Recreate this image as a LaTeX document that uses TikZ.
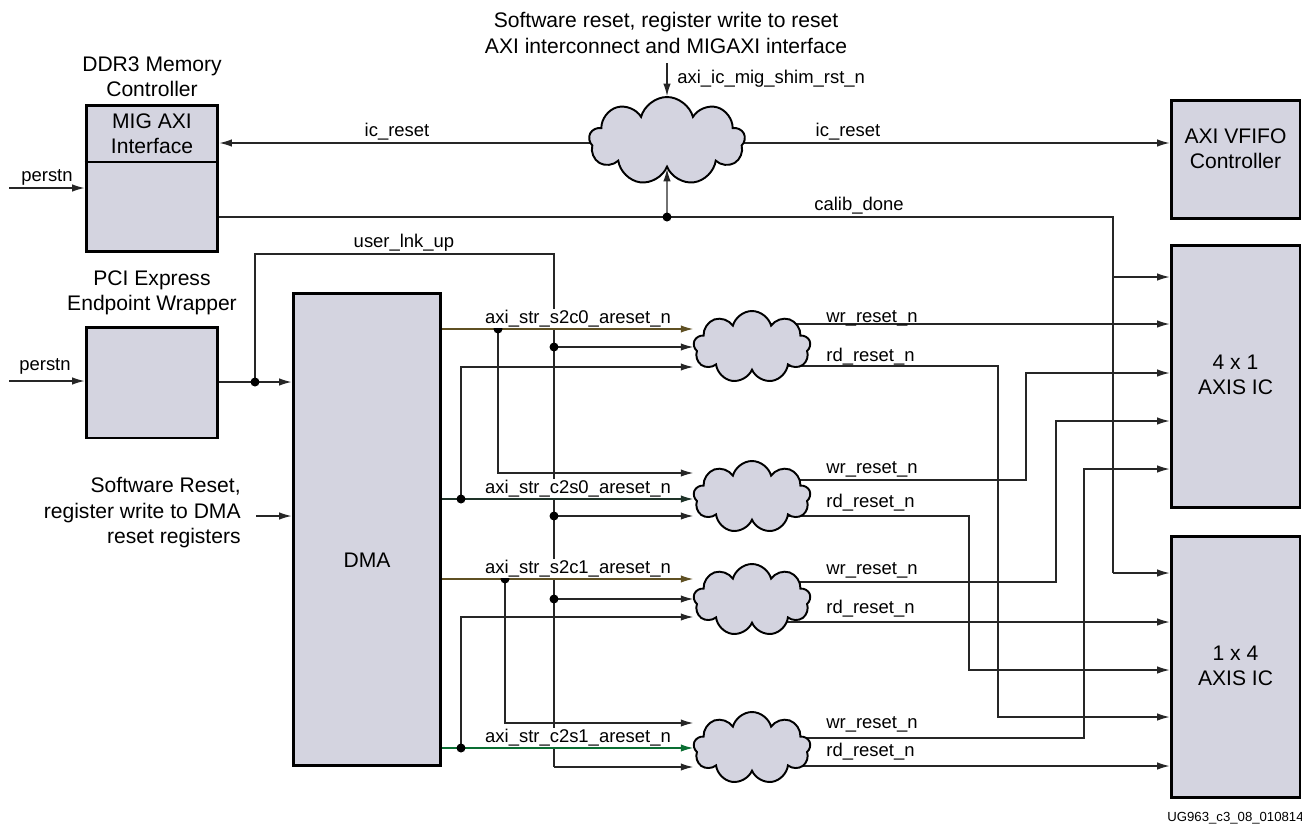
\documentclass[tikz,border=0pt]{standalone}
\usepackage{fontspec}
\setmainfont{Liberation Sans}
\usetikzlibrary{arrows.meta,shapes.symbols,backgrounds}
\definecolor{boxfill}{RGB}{212,212,224}
\definecolor{olivewire}{RGB}{95,80,35}
\definecolor{greenwire}{RGB}{10,110,50}
\definecolor{darkwire}{RGB}{30,50,40}
\begin{document}
\begin{tikzpicture}[x=0.02cm,y=-0.02cm,
  blk/.style={draw, line width=1.7pt, fill=boxfill, inner sep=0pt},
  cld/.style={cloud, cloud puffs=9, cloud puff arc=150, cloud ignores aspect, draw, line width=1.1pt, fill=boxfill, inner sep=0pt},
  wire/.style={line width=0.65pt, draw=black!85},
  arr/.style={wire, -{Latex[length=7pt,width=4.2pt]}},
  jdot/.style={circle, fill=black, inner sep=0pt, minimum size=0.18cm},
  lbl/.style={font=\fontsize{10.5}{12}\selectfont, inner sep=0pt},
  wlbl/.style={lbl, fill=white, inner xsep=0pt, inner ysep=0.5pt},
  big/.style={font=\fontsize{12}{14.5}\selectfont, align=center, inner sep=0pt},
  tiny/.style={font=\fontsize{7.5}{9}\selectfont, inner sep=0pt}]
\useasboundingbox (0,0) rectangle (1302,825);

% ---------- blocks ----------
\node[blk, minimum width=2.64cm, minimum height=2.94cm] (ddr) at (152,178.5) {};
\coordinate (divy) at (0,162);
\draw[line width=1.7pt] (ddr.west |- divy) -- (ddr.east |- divy);
\node[big] (migt) at (152,134) {MIG AXI\\Interface};
\node[big] (ddrt) at (152,77) {DDR3 Memory\\Controller};

\node[blk, minimum width=2.64cm, minimum height=2.22cm] (pcie) at (152,382.5) {};
\node[big] (pciet) at (152,293) {PCI Express\\Endpoint Wrapper};

\node[blk, minimum width=2.96cm, minimum height=9.46cm] (dma) at (367,529.5) {};
\node[big] (dmat) at (367,560) {DMA};

\node[blk, minimum width=2.58cm, minimum height=2.38cm] (vfifo) at (1235.5,159.5) {};
\node[big] (vfifot) at (1235.5,149) {AXI VFIFO\\Controller};
\node[blk, minimum width=2.58cm, minimum height=5.26cm] (a41) at (1235.5,376.5) {};
\node[big] (a41t) at (1235.5,375) {4 x 1\\AXIS IC};
\node[blk, minimum width=2.58cm, minimum height=5.24cm] (a14) at (1235.5,667) {};
\node[big] (a14t) at (1235.5,666) {1 x 4\\AXIS IC};

% ---------- clouds ----------
\node[cld, minimum width=3.12cm, minimum height=1.76cm] (c0) at (667,141) {};
\node[cld, minimum width=2.34cm, minimum height=1.44cm] (c1) at (752,347) {};
\node[cld, minimum width=2.34cm, minimum height=1.44cm] (c2) at (752,497) {};
\node[cld, minimum width=2.34cm, minimum height=1.44cm] (c3) at (752,600) {};
\node[cld, minimum width=2.34cm, minimum height=1.44cm] (c4) at (752,748) {};

% ---------- coordinates ----------
\coordinate (p1) at (9,188);
\coordinate (p2) at (9,381);
\coordinate (sw) at (256,516);
\coordinate (icr) at (667,143);
\coordinate (shim) at (667,63);
\coordinate (cald) at (667,217);
\coordinate (cal1) at (1113,217);
\coordinate (cal2) at (1113,277);
\coordinate (cal3) at (1113,573);
\coordinate (pd) at (255,382);
\coordinate (ulu1) at (255,254);
\coordinate (ulu2) at (554,254);
\coordinate (ulu3) at (554,767);
\coordinate (ud1) at (554,347);
\coordinate (ud2) at (554,516);
\coordinate (ud3) at (554,599);
\coordinate (s0d) at (498,329);
\coordinate (s0b) at (498,473);
\coordinate (k0d) at (461,499);
\coordinate (k0b) at (461,367);
\coordinate (s1d) at (505,579);
\coordinate (s1b) at (505,723);
\coordinate (k1d) at (461,748);
\coordinate (k1b) at (461,617);
\coordinate (o1w) at (752,324);
\coordinate (o1r) at (752,366);
\coordinate (o1r1) at (998,366);
\coordinate (o1r2) at (998,717);
\coordinate (o2w) at (752,480);
\coordinate (o2w1) at (1026,480);
\coordinate (o2w2) at (1026,373);
\coordinate (o2r) at (752,516);
\coordinate (o2r1) at (969,516);
\coordinate (o2r2) at (969,670);
\coordinate (o3w) at (752,582);
\coordinate (o3w1) at (1056,582);
\coordinate (o3w2) at (1056,421);
\coordinate (o3r) at (752,622);
\coordinate (o4w) at (752,738);
\coordinate (o4w1) at (1084,738);
\coordinate (o4w2) at (1084,469);
\coordinate (o4r) at (752,766);

% ---------- wires ----------
\begin{scope}[on background layer]
\draw[arr] (icr) -- (icr -| ddr.east);
\draw[arr] (icr) -- (icr -| vfifo.west);
\draw[arr] (shim) -- (c0.north);
\draw[wire] (cald -| ddr.east) -- (cal1) -- (cal3);
\draw[arr] (cal3) -- (cal3 -| a14.west);
\draw[arr] (cal2) -- (cal2 -| a41.west);
\draw[arr] (cald) -- (c0.south);

\draw[arr] (p1) -- (p1 -| ddr.west);
\draw[arr] (p2) -- (p2 -| pcie.west);
\draw[arr] (sw) -- (sw -| dma.west);
\draw[arr] (pd -| pcie.east) -- (pd -| dma.west);
\draw[wire] (pd) -- (ulu1) -- (ulu2) -- (ulu3);
\draw[arr] (ulu3) -- (ulu3 -| c4.west);
\draw[arr] (ud1) -- (ud1 -| c1.west);
\draw[arr] (ud2) -- (ud2 -| c2.west);
\draw[arr] (ud3) -- (ud3 -| c3.west);

\draw[arr, draw=olivewire] (s0d -| dma.east) -- (s0d -| c1.west);
\draw[arr] (s0d) -- (s0b) -- (s0b -| c2.west);
\draw[arr, draw=darkwire] (k0d -| dma.east) -- (k0d -| c2.west);
\draw[arr] (k0d) -- (k0b) -- (k0b -| c1.west);
\draw[arr, draw=olivewire] (s1d -| dma.east) -- (s1d -| c3.west);
\draw[arr] (s1d) -- (s1b) -- (s1b -| c4.west);
\draw[arr, draw=greenwire] (k1d -| dma.east) -- (k1d -| c4.west);
\draw[arr] (k1d) -- (k1b) -- (k1b -| c3.west);

\draw[arr] (o1w) -- (o1w -| a41.west);
\draw[arr] (o1r) -- (o1r1) -- (o1r2) -- (o1r2 -| a14.west);
\draw[arr] (o2w) -- (o2w1) -- (o2w2) -- (o2w2 -| a41.west);
\draw[arr] (o2r) -- (o2r1) -- (o2r2) -- (o2r2 -| a14.west);
\draw[arr] (o3w) -- (o3w1) -- (o3w2) -- (o3w2 -| a41.west);
\draw[arr] (o3r) -- (o3r -| a14.west);
\draw[arr] (o4w) -- (o4w1) -- (o4w2) -- (o4w2 -| a41.west);
\draw[arr] (o4r) -- (o4r -| a14.west);
\end{scope}

% ---------- junction dots ----------
\node[jdot] (dcal) at (cald) {};
\node[jdot] (dpd) at (pd) {};
\node[jdot] (dud1) at (ud1) {};
\node[jdot] (dud2) at (ud2) {};
\node[jdot] (dud3) at (ud3) {};
\node[jdot] (ds0) at (s0d) {};
\node[jdot] (dk0) at (k0d) {};
\node[jdot] (ds1) at (s1d) {};
\node[jdot] (dk1) at (k1d) {};

% ---------- labels ----------
\node[big] (ttl) at (666,33) {Software reset, register write to reset\\AXI interconnect and MIGAXI interface};
\node[lbl, anchor=base west] (shimt) at (677,83) {axi\_ic\_mig\_shim\_rst\_n};
\node[lbl, anchor=base] (icl) at (397,136) {ic\_reset};
\node[lbl, anchor=base] (icr2) at (848,136) {ic\_reset};
\node[lbl, anchor=base] (calt) at (859,210) {calib\_done};
\node[lbl, anchor=base] (pst1) at (47,181) {perstn};
\node[lbl, anchor=base] (pst2) at (45,370) {perstn};
\node[lbl, anchor=base] (ulut) at (404,247) {user\_lnk\_up};
\node[big, align=right, anchor=east] (swt) at (241,513) {Software Reset,\\register write to DMA\\reset registers};

\node[wlbl, anchor=base] (ls0) at (578,323) {axi\_str\_s2c0\_areset\_n};
\node[wlbl, anchor=base] (lk0) at (578,493) {axi\_str\_c2s0\_areset\_n};
\node[wlbl, anchor=base] (ls1) at (578,573) {axi\_str\_s2c1\_areset\_n};
\node[wlbl, anchor=base] (lk1) at (578,742) {axi\_str\_c2s1\_areset\_n};

\node[lbl, anchor=base west] (w1) at (826,322) {wr\_reset\_n};
\node[lbl, anchor=base west] (r1) at (826,361) {rd\_reset\_n};
\node[lbl, anchor=base west] (w2) at (826,473) {wr\_reset\_n};
\node[lbl, anchor=base west] (r2) at (826,507) {rd\_reset\_n};
\node[lbl, anchor=base west] (w3) at (826,574) {wr\_reset\_n};
\node[lbl, anchor=base west] (r3) at (826,613) {rd\_reset\_n};
\node[lbl, anchor=base west] (w4) at (826,728) {wr\_reset\_n};
\node[lbl, anchor=base west] (r4) at (826,756) {rd\_reset\_n};

\node[tiny, anchor=base west] (fig) at (1167,821) {UG963\_c3\_08\_010814};
\end{tikzpicture}
\end{document}
